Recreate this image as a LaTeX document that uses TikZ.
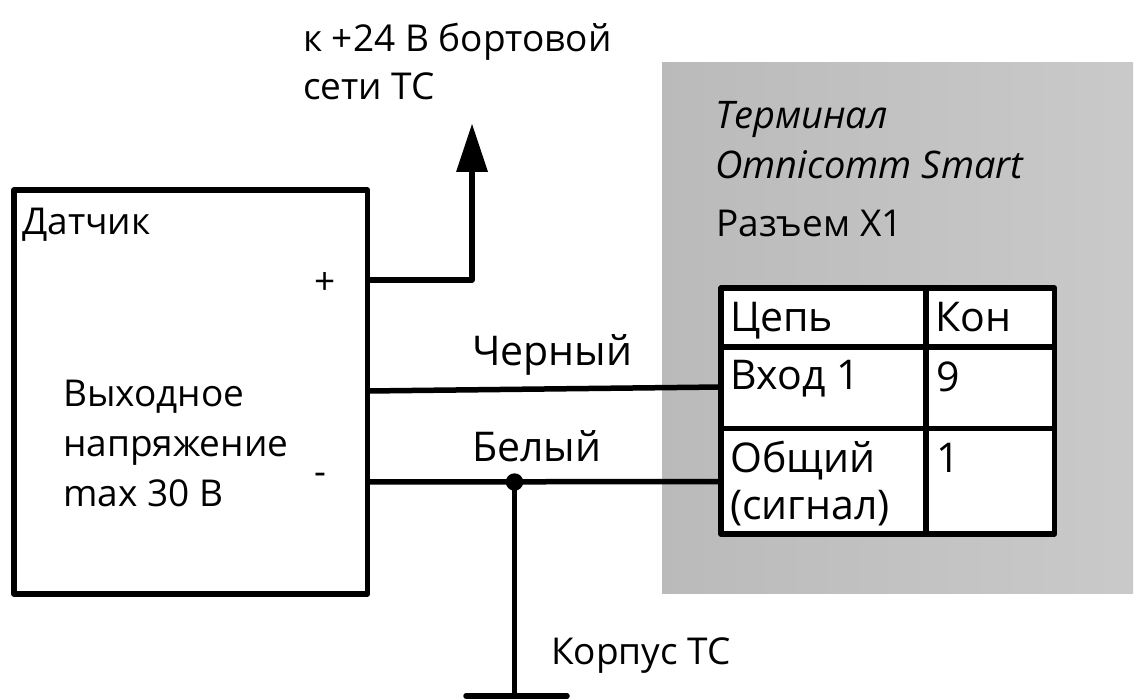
\documentclass[tikz,border=0pt]{standalone}
\usepackage{fontspec}
\setmainfont{Open Sans}
\usetikzlibrary{positioning}
\tikzset{
	lbl/.style={inner sep=0pt,anchor=base west,font=\fontsize{37pt}{42pt}\selectfont},
	lbli/.style={lbl,font=\fontsize{38pt}{42pt}\selectfont\itshape},
	lblw/.style={lbl,font=\fontsize{41pt}{46pt}\selectfont},
	wire/.style={line width=5.5pt,line join=round},
}
\begin{document}
\begin{tikzpicture}[x=1pt,y=-1pt]
\useasboundingbox (0,0) rectangle (1134,700);
\shade[shading angle=60,left color=black!27,right color=black!21] (662,63) rectangle (1133,593);
% sensor
\node[draw,wire,outer sep=0pt,minimum width=353.5pt,minimum height=404pt,anchor=north west,inner sep=0pt] (sensor) at (14,190) {};
\coordinate (plus) at (367.5,280);
\coordinate (black) at (367.5,391);
\coordinate (white) at (367.5,482);
\coordinate (up) at (472,280);
\coordinate (tip) at (472,124);
\coordinate (junction) at (514.5,482);
\coordinate (ground) at (514.5,696);
\coordinate (gndl) at (466,696);
\coordinate (gndr) at (567,696);
% connector table
\coordinate (tl) at (721,288);
\coordinate (br) at (1054.5,534);
\draw[wire,fill=white] (tl) rectangle (br);
\draw[wire] (721,347) -- (1054.5,347);
\draw[wire] (721,428.5) -- (1054.5,428.5);
\draw[wire] (926,288) -- (926,534);
% wires
\draw[wire] (plus) -- (up) -- (472,170);
\fill (tip) -- (456,172) -- (488,172) -- cycle;
\draw[wire] (black) -- (721,387);
\draw[wire] (white) -- (721,481.5);
\draw[wire] (junction) -- (ground);
\draw[wire,line cap=round] (gndl) -- (gndr);
\fill (junction) circle (8.7);
% labels
\node[lbl] (l1) at (303,52) {к +24 В бортовой};
\node[lbl] (l2) at (303,100) {сети ТС};
\node[lbli] (l3) at (715,129) {Терминал};
\node[lbli] (l4) at (715,179) {Omnicomm Smart};
\node[lbl] (l5) at (716,237) {Разъем Х1};
\node[lbl] (l6) at (22,235) {Датчик};
\node[lbl] (l7) at (314,295) {+};
\node[lbl] (l8) at (63,406) {Выходное};
\node[lbl] (l9) at (63,456) {напряжение};
\node[lbl] (l10) at (63,506) {max 30 В};
\node[lbl] (l11) at (314,484) {-};
\node[lblw] (l12) at (472,365) {Черный};
\node[lblw] (l13) at (472,461) {Белый};
\node[lbl] (l14) at (551,664) {Корпус ТС};
\node[lblw] (l15) at (730,331) {Цепь};
\node[lblw] (l16) at (935,331) {Кон};
\node[lblw] (l17) at (730,389) {Вход 1};
\node[lblw] (l18) at (936,391) {9};
\node[lblw] (l19) at (730,472) {Общий};
\node[lblw] (l20) at (730,519) {(сигнал)};
\node[lblw] (l21) at (936,472) {1};
\end{tikzpicture}
\end{document}
